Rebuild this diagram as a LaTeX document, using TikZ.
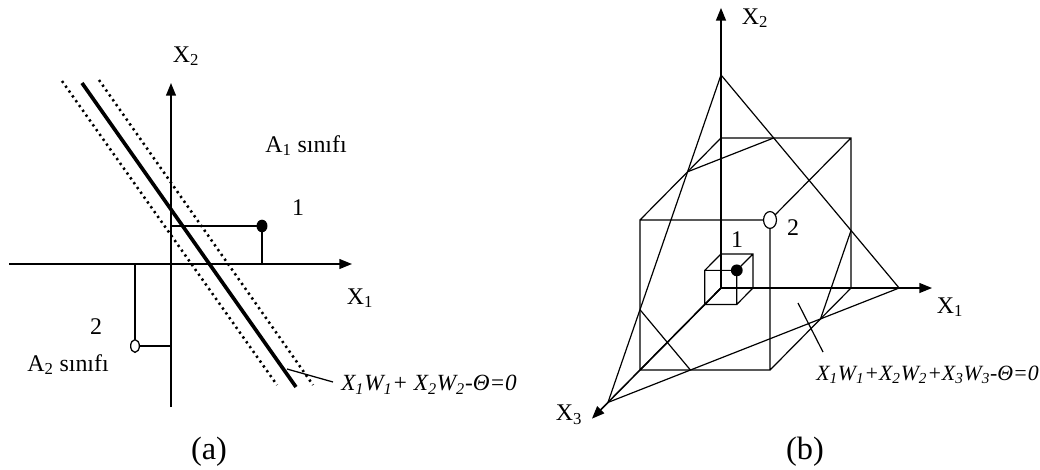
\documentclass[tikz,border=0pt]{standalone}
\usepackage{fontspec}
\setmainfont{Liberation Serif}
\usetikzlibrary{arrows.meta}
\tikzset{
  axis/.style={line width=1.1pt, -{Triangle[length=9pt, width=7pt]}},
  sepline/.style={line width=2.6pt},
  margline/.style={line width=1.8pt, dash pattern=on 1.6pt off 2.6pt},
  proj/.style={line width=0.9pt},
  edge/.style={line width=0.85pt},
  lbl/.style={font=\fontsize{17}{19}\selectfont, inner sep=0pt},
  eqn/.style={font=\fontsize{16.5}{19}\selectfont\itshape, inner sep=0pt, anchor=west},
  capt/.style={font=\fontsize{23}{26}\selectfont, inner sep=0pt},
}
\begin{document}
\begin{tikzpicture}[x=0.025cm, y=-0.025cm]
  \useasboundingbox (0,0) rectangle (1040,469);
  % (a) two classes in the plane
  \coordinate (aO) at (171,264);
  \coordinate (aX1s) at (9,264); \coordinate (aX1) at (352,264);
  \coordinate (aX2s) at (171,407); \coordinate (aX2) at (171,83);
  \draw[axis] (aX1s) -- (aX1);
  \draw[axis] (aX2s) -- (aX2);
  \coordinate (sA) at (82,83); \coordinate (sB) at (296,387);
  \coordinate (mA) at (62,81); \coordinate (mB) at (277,385);
  \coordinate (nA) at (99,80); \coordinate (nB) at (313,385);
  \draw[sepline] (sA) -- (sB);
  \draw[margline] (mA) -- (mB);
  \draw[margline] (nA) -- (nB);
  \coordinate (p1) at (262,226); \coordinate (p2) at (135,346);
  \draw[proj] (p1 -| aO) -- (p1) -- (p1 |- aO);
  \draw[proj] (p2 |- aO) -- (p2) -- (p2 -| aO);
  \fill (p1) ellipse [x radius=3.9pt, y radius=4.5pt];
  \draw[proj, fill=white] (p2) ellipse [x radius=3.1pt, y radius=4.5pt];
  \coordinate (tA) at (287,369); \coordinate (tB) at (333,382);
  \draw[proj] (tA) -- (tB);
  \node[lbl] (lX2a) at (186,56) {X\textsubscript{2}};
  \node[lbl] (lX1a) at (360,298) {X\textsubscript{1}};
  \node[lbl] (l1a) at (298,208) {1};
  \node[lbl] (l2a) at (96,327) {2};
  \node[lbl, anchor=base west] (A1) at (265,152) {A\textsubscript{1} sınıfı};
  \node[lbl, anchor=base west] (A2) at (27,371) {A\textsubscript{2} sınıfı};
  \node[eqn] (eqa) at (341,385) {X\textsubscript{1}W\textsubscript{1}+ X\textsubscript{2}W\textsubscript{2}-Θ=0};
  \node[capt] (capa) at (209,452) {(a)};
  % (b) three inputs, plane through the cube
  \begin{scope}[shift={(721,288)}, x={(3.25cm,0cm)}, y={(0cm,3.75cm)}, z={(-2.025cm,-2.05cm)}]
    \coordinate (O) at (0,0,0);
    \coordinate (X1tip) at (1.623,0,0);
    \coordinate (X2tip) at (0,1.867,0);
    \coordinate (X3tip) at (0,0,1.593);
    \coordinate (I1) at (1.37,0,0);
    \coordinate (I2) at (0,1.42,0);
    \coordinate (I3) at (0,0,1.395);
    \draw[axis] (O) -- (X1tip);
    \draw[axis] (O) -- (X2tip);
    \draw[axis] (O) -- (X3tip);
    \draw[edge] (I1) -- (I2) -- (I3) -- cycle;
    \foreach \s/\t/\u in {1/1/1, 0.246/0.227/0.2} {
      \draw[edge] (0,0,0) -- (\s,0,0) -- (\s,\t,0) -- (0,\t,0) -- cycle
        (0,0,\u) -- (\s,0,\u) -- (\s,\t,\u) -- (0,\t,\u) -- cycle
        (0,0,0) -- (0,0,\u) (\s,0,0) -- (\s,0,\u)
        (\s,\t,0) -- (\s,\t,\u) (0,\t,0) -- (0,\t,\u);
    }
    \draw[edge] (0.4052,1,0) -- (0,1,0.4126)
      (0,0.4021,1) -- (0.3879,0,1)
      (1,0,0.3767) -- (1,0.3835,0);
    \coordinate (q1) at (0.246,0.227,0.2);
    \coordinate (q2) at (1,1,1);
  \end{scope}
  \fill (q1) circle (4.2pt);
  \draw[edge, fill=white] (q2) ellipse [x radius=4.6pt, y radius=6pt];
  \coordinate (uA) at (798,303); \coordinate (uB) at (823,352);
  \draw[edge] (uA) -- (uB);
  \node[lbl] (lX2b) at (755,18) {X\textsubscript{2}};
  \node[lbl] (lX1b) at (950,307) {X\textsubscript{1}};
  \node[lbl] (lX3b) at (569,415) {X\textsubscript{3}};
  \node[lbl] (l1b) at (737,240) {1};
  \node[lbl] (l2b) at (793,228) {2};
  \node[eqn, font=\fontsize{15.5}{18}\selectfont\itshape] (eqb) at (816,375) {X\textsubscript{1}W\textsubscript{1}+X\textsubscript{2}W\textsubscript{2}+X\textsubscript{3}W\textsubscript{3}-Θ=0};
  \node[capt] (capb) at (805,452) {(b)};
\end{tikzpicture}
\end{document}
